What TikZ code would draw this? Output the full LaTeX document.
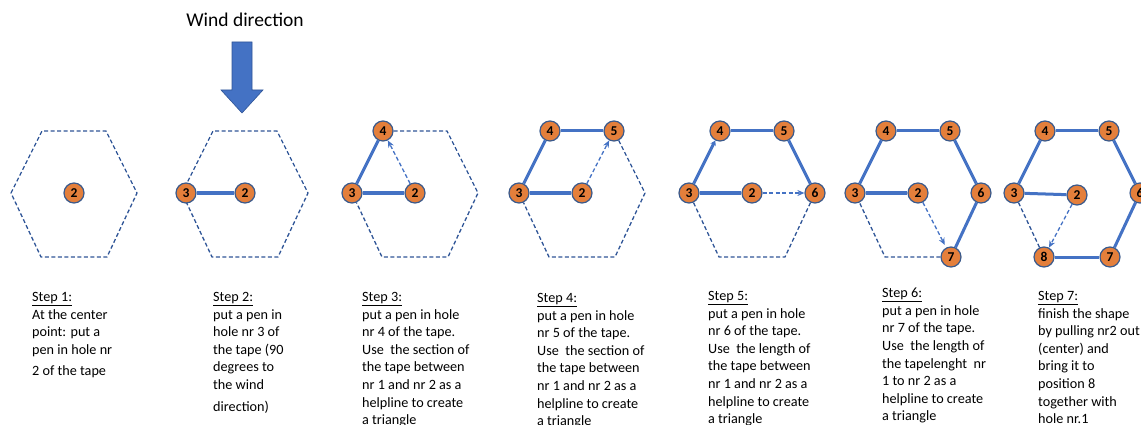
\documentclass[tikz,border=0pt]{standalone}
\usepackage{fontspec}
\setmainfont{Carlito}
\usetikzlibrary{arrows.meta}
\definecolor{lineblue}{HTML}{4472C4}
\definecolor{hexblue}{HTML}{2F5597}
\definecolor{penorange}{HTML}{E47F3B}
\definecolor{penedge}{HTML}{3A5A8C}
\tikzset{
  penhole/.style={circle, fill=penorange, draw=penedge, line width=1.2pt, minimum size=20pt, inner sep=0pt, font=\fontsize{13.5}{13.5}\selectfont\bfseries},
  tapeline/.style={draw=lineblue, line width=3pt},
  hexline/.style={draw=hexblue, line width=1.3pt, dash pattern=on 4pt off 2.5pt},
  helper/.style={draw=lineblue, line width=1.3pt, dash pattern=on 4pt off 2.5pt, -{Stealth[length=7pt,width=6pt]}},
  steptext/.style={anchor=north west, inner sep=0pt, align=left, font=\fontsize{14.2}{17.6}\selectfont},
  windarrow/.style={fill=lineblue, draw=hexblue, line width=0.6pt},
}
\newcommand\hexat[2]{%
  \coordinate (#1l) at (#2-63,193);
  \coordinate (#1tl) at (#2-32,131);
  \coordinate (#1tr) at (#2+32,131);
  \coordinate (#1r) at (#2+63,193);
  \coordinate (#1br) at (#2+33,257);
  \coordinate (#1bl) at (#2-33,257);
  \coordinate (#1c) at (#2,193);
}
\begin{document}
\begin{tikzpicture}[x=1pt,y=-1pt]
\useasboundingbox (0,0) rectangle (1141,425);
\clip (0,0) rectangle (1141,425);

% wind
\node[font=\fontsize{19.5}{20}\selectfont] (wind) at (245,20) {Wind direction};
\draw[windarrow] (232,42) -- (252,42) -- (252,90) -- (263,90) -- (242,113) -- (221,90) -- (232,90) -- cycle;

\hexat{h1}{74}
\hexat{h2}{245}
\hexat{h3}{415}
\hexat{h4}{582}
\hexat{h5}{752}
\hexat{h6}{918}
\hexat{h7}{1077}

% hex 1
\draw[hexline] (h1l) -- (h1tl) -- (h1tr) -- (h1r) -- (h1br) -- (h1bl) -- cycle;
\node[penhole] (a2) at (h1c) {2};

% hex 2
\draw[hexline] (h2l) -- (h2tl) -- (h2tr) -- (h2r) -- (h2br) -- (h2bl) -- cycle;
\node[penhole] (b3) at ([xshift=4pt]h2l) {3};
\node[penhole] (b2) at (h2c) {2};
\draw[tapeline] (b3) -- (b2);

% hex 3
\node[penhole] (c4) at (h3tl) {4};
\node[penhole] (c3) at (h3l) {3};
\node[penhole] (c2) at (h3c) {2};
\draw[hexline] (c4) -- (h3tr) -- (h3r) -- (h3br) -- (h3bl) -- (c3);
\draw[tapeline] (c3) -- (c4);
\draw[tapeline] (c3) -- (c2);
\draw[helper] (c2) -- (c4);

% hex 4
\node[penhole] (d4) at (h4tl) {4};
\node[penhole] (d5) at (h4tr) {5};
\node[penhole] (d3) at (h4l) {3};
\node[penhole] (d2) at (h4c) {2};
\draw[hexline] (d5) -- (h4r) -- (h4br) -- (h4bl) -- (d3);
\draw[tapeline] (d3) -- (d4);
\draw[tapeline] (d4) -- (d5);
\draw[tapeline] (d3) -- (d2);
\draw[helper] (d2) -- (d5);

% hex 5
\node[penhole] (e4) at (h5tl) {4};
\node[penhole] (e5) at (h5tr) {5};
\node[penhole] (e3) at (h5l) {3};
\node[penhole] (e2) at (h5c) {2};
\node[penhole] (e6) at (h5r) {6};
\draw[hexline] (e6) -- (h5br) -- (h5bl) -- (e3);
\draw[tapeline, -{Stealth[length=5pt,width=6pt]}] (e3) -- (e4);
\draw[tapeline] (e4) -- (e5);
\draw[tapeline] (e5) -- (e6);
\draw[tapeline] (e3) -- (e2);
\draw[helper] (e2) -- (e6);

% hex 6
\node[penhole] (f4) at (h6tl) {4};
\node[penhole] (f5) at (h6tr) {5};
\node[penhole] (f3) at (h6l) {3};
\node[penhole] (f2) at (h6c) {2};
\node[penhole] (f6) at (h6r) {6};
\node[penhole] (f7) at (h6br) {7};
\draw[hexline] (f7) -- (h6bl) -- (f3);
\draw[tapeline] (f3) -- (f4);
\draw[tapeline] (f4) -- (f5);
\draw[tapeline] (f5) -- (f6);
\draw[tapeline] (f6) -- (f7);
\draw[tapeline] (f3) -- (f2);
\draw[helper, shorten >=3pt] (f2) -- (f7);

% hex 7
\node[penhole] (g4) at (h7tl) {4};
\node[penhole] (g5) at (h7tr) {5};
\node[penhole] (g3) at (h7l) {3};
\node[penhole] (g2) at ([yshift=-2pt]h7c) {2};
\node[penhole] (g6) at (h7r) {6};
\node[penhole] (g7) at (h7br) {7};
\node[penhole] (g8) at (h7bl) {8};
\draw[hexline] (g3) -- (g8);
\draw[tapeline] (g3) -- (g4);
\draw[tapeline] (g4) -- (g5);
\draw[tapeline] (g5) -- (g6);
\draw[tapeline] (g6) -- (g7);
\draw[tapeline] (g7) -- (g8);
\draw[tapeline] (g3) -- (g2);
\draw[helper] (g2) -- (g8);

% texts
\node[steptext] (s1) at (32,292) {\underline{Step 1:}\\At the center\\point: put a\\pen in hole nr\\[4pt]2 of the tape};
\node[steptext] (s2) at (213,292) {\underline{Step 2:}\\put a pen in\\hole nr 3 of\\the tape (90\\degrees to\\the wind\\[4pt]direction)};
\node[steptext] (s3) at (362,292) {\underline{Step 3:}\\put a pen in hole\\nr 4 of the tape.\\Use~ the section of\\the tape between\\nr 1 and nr 2 as a\\helpline to create\\a triangle};
\node[steptext] (s4) at (537,293) {\underline{Step 4:}\\put a pen in hole\\nr 5 of the tape.\\Use~ the section of\\the tape between\\nr 1 and nr 2 as a\\helpline to create\\a triangle};
\node[steptext] (s5) at (708,291) {\underline{Step 5:}\\put a pen in hole\\nr 6 of the tape.\\Use~ the length of\\the tape between\\nr 1 and nr 2 as a\\helpline to create\\a triangle};
\node[steptext] (s6) at (882,288) {\underline{Step 6:}\\put a pen in hole\\nr 7 of the tape.\\Use~ the length of\\the tapelenght~ nr\\1 to nr 2 as a\\helpline to create\\a triangle};
\node[steptext] (s7) at (1038,291) {\underline{Step 7:}\\finish the shape\\by pulling nr2 out\\(center) and\\bring it to\\position 8\\together with\\hole nr.1};
\end{tikzpicture}
\end{document}
